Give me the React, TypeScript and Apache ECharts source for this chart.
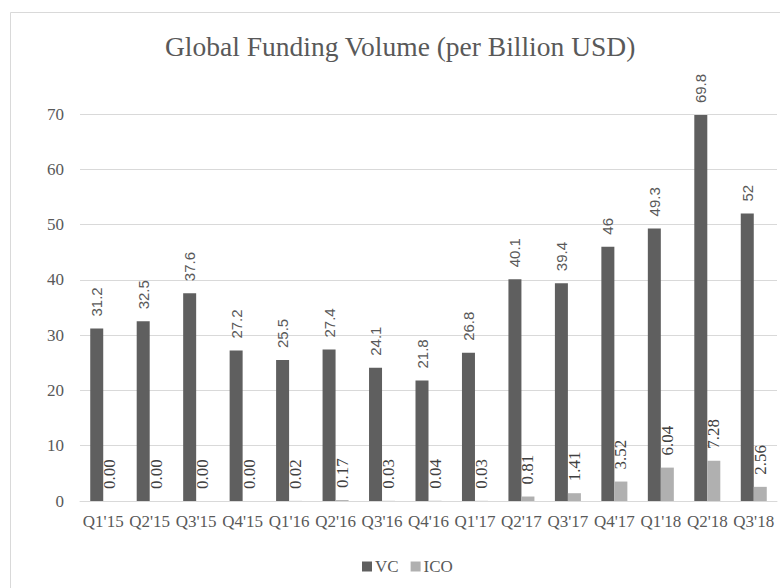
import React, { useEffect, useRef } from "react";
import * as echarts from "echarts";

const categories = ["Q1'15", "Q2'15", "Q3'15", "Q4'15", "Q1'16", "Q2'16", "Q3'16", "Q4'16", "Q1'17", "Q2'17", "Q3'17", "Q4'17", "Q1'18", "Q2'18", "Q3'18"];
const vcValues = [31.2, 32.5, 37.6, 27.2, 25.5, 27.4, 24.1, 21.8, 26.8, 40.1, 39.4, 46, 49.3, 69.8, 52];
const icoValues = [0.0, 0.0, 0.0, 0.0, 0.02, 0.17, 0.03, 0.04, 0.03, 0.81, 1.41, 3.52, 6.04, 7.28, 2.56];
const icoLabels = ["0.00", "0.00", "0.00", "0.00", "0.02", "0.17", "0.03", "0.04", "0.03", "0.81", "1.41", "3.52", "6.04", "7.28", "2.56"];
const yTicks = [0, 10, 20, 30, 40, 50, 60, 70];

const SERIF = "Liberation Serif";
const SANS = "Liberation Sans";

export default function App() {
  const ref = useRef<HTMLDivElement>(null);
  useEffect(() => {
    if (!ref.current) return;
    const chart = echarts.init(ref.current, undefined, { renderer: "svg" });
    chart.setOption({
      animation: false,
      backgroundColor: "#ffffff",
      graphic: [
        {
          type: "rect",
          shape: { x: 10.5, y: 12.5, width: 800, height: 600 },
          style: { fill: "none", stroke: "#d9d9d9", lineWidth: 1 },
          silent: true,
        },
      ],
      title: {
        text: "Global Funding Volume (per Billion USD)",
        left: 160,
        top: 27,
        textStyle: { fontFamily: SERIF, fontSize: 27.5, fontWeight: "normal", color: "#595959" },
      },
      legend: {
        bottom: 8,
        left: 357,
        itemWidth: 10,
        itemHeight: 10,
        itemGap: 12,
        icon: "rect",
        textStyle: { fontFamily: SERIF, fontSize: 17, color: "#595959", padding: [0, 0, 0, -2] },
        data: ["VC", "ICO"],
      },
      grid: { left: 80, right: 3, top: 114, bottom: 87, containLabel: false },
      xAxis: {
        type: "category",
        data: categories,
        axisLine: { lineStyle: { color: "#d9d9d9" } },
        axisTick: { show: false },
        axisLabel: { fontFamily: SERIF, fontSize: 17, color: "#595959", margin: 12, interval: 0 },
      },
      yAxis: {
        type: "value",
        min: yTicks[0],
        max: yTicks[yTicks.length - 1],
        interval: 10,
        axisLine: { show: false },
        axisTick: { show: false },
        splitLine: { lineStyle: { color: "#d9d9d9" } },
        axisLabel: { fontFamily: SERIF, fontSize: 17, color: "#595959", margin: 16 },
      },
      series: [
        {
          name: "VC",
          type: "bar",
          data: vcValues,
          barWidth: 13,
          barGap: "0%",
          itemStyle: { color: "#5f5f5f" },
          label: {
            show: true,
            position: "top",
            rotate: 90,
            align: "left",
            verticalAlign: "middle",
            distance: 12,
            fontFamily: SANS,
            fontSize: 15,
            color: "#595959",
            formatter: (p: any) => String(p.value),
          },
        },
        {
          name: "ICO",
          type: "bar",
          data: icoValues,
          barWidth: 13,
          barGap: "0%",
          itemStyle: { color: "#b0b0b0" },
          label: {
            show: true,
            position: "top",
            rotate: 90,
            align: "left",
            verticalAlign: "middle",
            distance: 12,
            fontFamily: SERIF,
            fontSize: 17,
            color: "#404040",
            formatter: (p: any) => icoLabels[p.dataIndex],
          },
        },
      ],
    });
    return () => chart.dispose();
  }, []);
  return <div ref={ref} style={{ position: "fixed", left: 0, top: 0, width: 780, height: 588 }} />;
}
